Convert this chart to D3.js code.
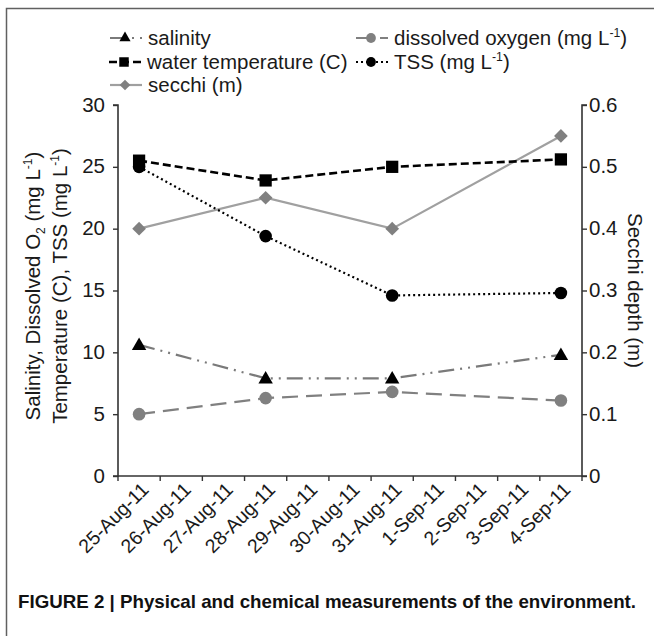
<!DOCTYPE html>
<html><head><meta charset="utf-8">
<script src="https://cdn.jsdelivr.net/npm/d3@7"></script>
<style>body{margin:0;background:#fff}svg{display:block}text{font-family:"Liberation Sans",Arial,sans-serif}</style>
</head><body>
<svg id="c" width="654" height="636"></svg>
<script>
const categories = ["25-Aug-11","26-Aug-11","27-Aug-11","28-Aug-11","29-Aug-11","30-Aug-11","31-Aug-11","1-Sep-11","2-Sep-11","3-Sep-11","4-Sep-11"];
const sampleDates = ["25-Aug-11","28-Aug-11","31-Aug-11","4-Sep-11"];
const salinity = [10.6, 7.9, 7.9, 9.8];
const dissolvedOxygen = [5.0, 6.3, 6.8, 6.1];
const waterTemperature = [25.5, 23.9, 25.0, 25.6];
const tss = [25.0, 19.4, 14.6, 14.8];
const secchi = [0.40, 0.45, 0.40, 0.55];
const leftTicks = [0, 5, 10, 15, 20, 25, 30];
const rightTicks = [0, 0.1, 0.2, 0.3, 0.4, 0.5, 0.6];

const svg = d3.select("#c");
const FS = 20.5;
const L = 118, R = 582, T = 105, B = 476;
const txt = "#1a1a1a";

svg.append("path").attr("d", `M6.5,636 V8.5 H654`).attr("fill","none").attr("stroke","#606060").attr("stroke-width",1.5);

const x = d3.scaleBand().domain(categories).range([L, R]).paddingInner(0).paddingOuter(0);
const xc = d => x(d) + x.bandwidth() / 2;
const yL = d3.scaleLinear().domain([0, 30]).range([B, T]);
const yR = d3.scaleLinear().domain([0, 0.6]).range([B, T]);

const axisColor = "#333";
const gL = svg.append("g").attr("transform", `translate(${L},0)`)
  .call(d3.axisLeft(yL).tickValues(leftTicks).tickSize(5).tickPadding(8).tickFormat(d3.format("d")));
const gR = svg.append("g").attr("transform", `translate(${R},0)`)
  .call(d3.axisRight(yR).tickValues(rightTicks).tickSize(5).tickPadding(2).tickFormat(d => d === 0 ? "0" : d3.format(".1f")(d)));
const gB = svg.append("g").attr("transform", `translate(0,${B})`)
  .call(d3.axisBottom(x).tickSize(0).tickFormat(""));
[gL, gR, gB].forEach(g => {
  g.select(".domain").attr("stroke", axisColor).attr("stroke-width", 1.6);
  g.selectAll(".tick line").attr("stroke", axisColor).attr("stroke-width", 1.4);
  g.selectAll(".tick text").attr("font-size", FS).attr("fill", txt).attr("font-family", '"Liberation Sans",Arial,sans-serif');
});
gL.selectAll(".tick text").attr("dy", "0.3em");
gR.selectAll(".tick text").attr("dy", "0.3em");
gL.select(".domain").attr("d", `M-5,${T}H0V${B}H-5`);
gR.select(".domain").attr("d", `M5,${T}H0V${B}H5`);
gB.select(".domain").attr("d", `M${L},0H${R}`);
const edges = categories.map(c => x(c)).concat([R]);
gB.selectAll(".edge").data(edges).join("line").attr("class","edge")
  .attr("x1", d => d).attr("x2", d => d).attr("y1", 0).attr("y2", 5)
  .attr("stroke", axisColor).attr("stroke-width", 1.4);
gB.selectAll(".xl").data(categories).join("text").attr("class","xl")
  .attr("transform", d => `translate(${xc(d) + 6},${10}) rotate(-45)`)
  .attr("text-anchor", "end").attr("dy", "0.35em")
  .attr("font-size", 19.5).attr("fill", txt).text(d => d);

const series = [
  {name:"salinity", vals:salinity, y:yL, color:"#7a7a7a", dash:"16,6,2,6,2,6", width:2.2, marker:"triangle", mcolor:"#000"},
  {name:"dissolved oxygen", vals:dissolvedOxygen, y:yL, color:"#808080", dash:"16,8", width:2.2, marker:"circle", mcolor:"#808080"},
  {name:"water temperature (C)", vals:waterTemperature, y:yL, color:"#000", dash:"8,4", width:2.6, marker:"square", mcolor:"#000"},
  {name:"TSS", vals:tss, y:yL, color:"#000", dash:"2,3", width:2.2, marker:"circle", mcolor:"#000"},
  {name:"secchi (m)", vals:secchi, y:yR, color:"#a0a0a0", dash:null, width:2.2, marker:"diamond", mcolor:"#808080"}
];
const symType = {triangle: d3.symbolTriangle, circle: d3.symbolCircle, square: d3.symbolSquare, diamond: d3.symbolDiamond2 || d3.symbolDiamond};
const symSize = {triangle: 90, circle: 125, square: 150, diamond: 120};

const plot = svg.append("g");
[4, 2, 3, 1, 0].forEach(i => {
  const s = series[i];
  const pts = sampleDates.map((d, k) => [xc(d), s.y(s.vals[k])]);
  plot.append("path").attr("d", d3.line()(pts)).attr("fill","none")
    .attr("stroke", s.color).attr("stroke-width", s.width)
    .attr("stroke-dasharray", s.dash);
  plot.selectAll(null).data(pts).join("path")
    .attr("transform", p => `translate(${p[0]},${p[1] + (s.marker==="triangle" ? 1 : 0)})`)
    .attr("d", d3.symbol().type(symType[s.marker]).size(symSize[s.marker]))
    .attr("fill", s.mcolor);
});

const leg = svg.append("g");
function legendItem(s, x0, yb, label, sup) {
  const cy = yb - 7;
  leg.append("line").attr("x1", x0).attr("x2", x0 + 32).attr("y1", cy).attr("y2", cy)
    .attr("stroke", s.color).attr("stroke-width", s.width).attr("stroke-dasharray", s.dash);
  leg.append("path").attr("transform", `translate(${x0 + 15},${cy})`)
    .attr("d", d3.symbol().type(symType[s.marker]).size(symSize[s.marker] * 0.6)).attr("fill", s.mcolor);
  const t = leg.append("text").attr("x", x0 + 38).attr("y", yb).attr("font-size", FS).attr("fill", txt);
  t.append("tspan").text(label);
  if (sup) {
    t.append("tspan").attr("font-size", FS * 0.6).attr("dy", -8).text("-1");
    t.append("tspan").attr("dy", 8).text(")");
  }
}
legendItem(series[0], 110, 45, "salinity");
legendItem(series[1], 356, 45, "dissolved oxygen (mg L", true);
legendItem(series[2], 109, 69, "water temperature (C)");
legendItem(series[3], 356, 69, "TSS (mg L", true);
legendItem(series[4], 110, 92, "secchi (m)");

const yt = svg.append("g").attr("transform", `translate(40,286) rotate(-90)`);
const t1 = yt.append("text").attr("text-anchor","middle").attr("y", 0).attr("font-size", FS).attr("fill",txt);
t1.append("tspan").text("Salinity, Dissolved O");
t1.append("tspan").attr("font-size", 12).attr("dy", 5).text("2");
t1.append("tspan").attr("dy", -5).text(" (mg L");
t1.append("tspan").attr("font-size", 12).attr("dy", -8).text("-1");
t1.append("tspan").attr("dy", 8).text(")");
const t2 = yt.append("text").attr("text-anchor","middle").attr("y", 27).attr("font-size", FS).attr("fill",txt);
t2.append("tspan").text("Temperature (C), TSS (mg L");
t2.append("tspan").attr("font-size", 12).attr("dy", -8).text("-1");
t2.append("tspan").attr("dy", 8).text(")");

svg.append("text").attr("transform", `translate(628,${(T + B) / 2}) rotate(90)`)
  .attr("text-anchor","middle").attr("font-size", FS).attr("fill",txt).text("Secchi depth (m)");

svg.append("text").attr("x", 18).attr("y", 608)
  .attr("font-family", '"Liberation Sans Narrow","Arial Narrow","Liberation Sans",sans-serif')
  .attr("font-weight", "bold").attr("font-size", 19).attr("fill", "#111")
  .attr("textLength", 618).attr("lengthAdjust", "spacingAndGlyphs")
  .text("FIGURE 2 | Physical and chemical measurements of the environment.");
</script>
</body></html>
